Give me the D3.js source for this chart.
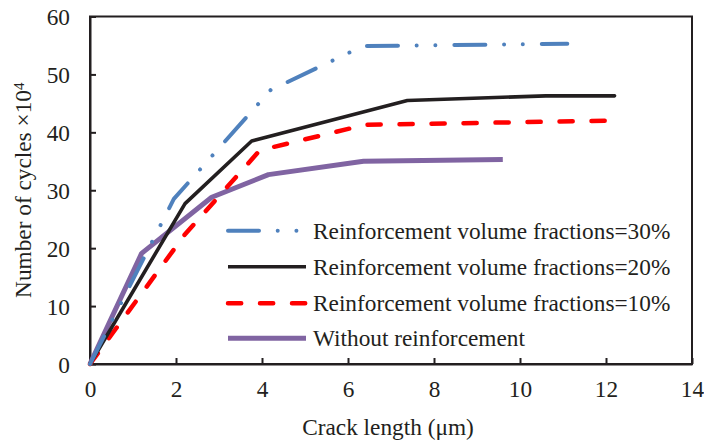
<!DOCTYPE html>
<html><head><meta charset="utf-8">
<script src="https://cdn.jsdelivr.net/npm/d3@7"></script>
<style>body{margin:0;background:#fff}svg{display:block}</style>
</head><body>
<script>
// Data
const seriesNames = [
  "Reinforcement volume fractions=30%",
  "Reinforcement volume fractions=20%",
  "Reinforcement volume fractions=10%",
  "Without reinforcement"
];
const x30 = [0, 1.95, 4.2, 6.35, 11.1];
const y30 = [0, 28.5, 47.3, 54.9, 55.3];
const x20 = [0, 2.21, 3.76, 7.38, 10.6, 12.2];
const y20 = [0, 27.7, 38.5, 45.5, 46.3, 46.3];
const x10 = [0, 2.2, 3.95, 6.4, 12.0];
const y10 = [0, 22.3, 36.9, 41.3, 42.0];
const x0 = [0, 1.2, 2.83, 4.15, 6.36, 9.6];
const y0 = [0, 19.1, 28.8, 32.7, 35.0, 35.3];
const xTicks = [0, 2, 4, 6, 8, 10, 12, 14];
const yTicks = [0, 10, 20, 30, 40, 50, 60];

const W = 704, H = 447;
const m = {left: 90, right: 12, top: 16.5, bottom: 83};
const font = "'Liberation Serif','Times New Roman',serif";
const fs = 23.3;
const axisColor = "#231F20";

const svg = d3.select("body").append("svg").attr("width", W).attr("height", H);
const x = d3.scaleLinear().domain([0, 14]).range([m.left, W - m.right]);
const y = d3.scaleLinear().domain([0, 60]).range([H - m.bottom, m.top]);

const series = [
  {name: seriesNames[0], xs: x30, ys: y30, color: "#4F81BD", width: 4, dash: "31,18.7,0.01,18.7,0.01,19"},
  {name: seriesNames[1], xs: x20, ys: y20, color: "#231F20", width: 3.6, dash: null},
  {name: seriesNames[2], xs: x10, ys: y10, color: "#FF0000", width: 4.5, dash: "13.2,18.8"},
  {name: seriesNames[3], xs: x0, ys: y0, color: "#8064A2", width: 5, dash: null}
];

// Frame
svg.append("rect").attr("x", x(0)).attr("y", y(60)).attr("width", x(14) - x(0)).attr("height", y(0) - y(60))
  .attr("fill", "none").attr("stroke", axisColor).attr("stroke-width", 2);

// Axes
const xAxis = d3.axisBottom(x).tickValues(xTicks).tickSizeInner(-6).tickSizeOuter(0).tickPadding(16).tickFormat(d3.format("d"));
const yAxis = d3.axisLeft(y).tickValues(yTicks).tickSizeInner(-6).tickSizeOuter(0).tickPadding(20).tickFormat(d3.format("d"));
const gx = svg.append("g").attr("transform", `translate(0,${y(0)})`).call(xAxis);
const gy = svg.append("g").attr("transform", `translate(${x(0)},0)`).call(yAxis);
[gx, gy].forEach(g => {
  g.select(".domain").attr("stroke", axisColor).attr("stroke-width", 2);
  g.selectAll(".tick line").attr("stroke", axisColor).attr("stroke-width", 2);
  g.selectAll(".tick text").attr("fill", "#231F20").attr("font-family", font).attr("font-size", fs);
});
gy.selectAll(".tick text").attr("dy", "0.35em");

// Lines
const line = d3.line().x(d => x(d[0])).y(d => y(d[1]));
const order = [3, 2, 1, 0];
order.forEach(i => {
  const s = series[i];
  const pts = s.xs.map((v, k) => [v, s.ys[k]]);
  const p = svg.append("path").datum(pts).attr("d", line)
    .attr("fill", "none").attr("stroke", s.color).attr("stroke-width", s.width)
    .attr("stroke-linejoin", "round").attr("stroke-linecap", s.dash ? "round" : (i === 3 ? "butt" : "round"));
  if (s.dash) p.attr("stroke-dasharray", s.dash);
});

// Legend
const legY = [230.7, 266.7, 303.3, 338.3];
const legX0 = 228, legX1 = 306;
series.forEach((s, i) => {
  const l = svg.append("line").attr("x1", legX0).attr("x2", legX1).attr("y1", legY[i]).attr("y2", legY[i])
    .attr("stroke", s.color).attr("stroke-width", s.width)
    .attr("stroke-linecap", s.dash ? "round" : "butt");
  if (s.dash) l.attr("stroke-dasharray", s.dash);
  svg.append("text").attr("x", 313).attr("y", legY[i]).attr("dy", "0.35em")
    .attr("font-family", font).attr("font-size", fs).attr("fill", "#231F20").text(s.name);
});

// Axis titles
svg.append("text").attr("x", (x(0) + x(14)) / 2 - 3).attr("y", 435).attr("text-anchor", "middle")
  .attr("font-family", font).attr("font-size", fs).attr("fill", "#231F20").text("Crack length (μm)");
const yt = svg.append("text").attr("transform", `translate(31,${(y(0) + y(60)) / 2}) rotate(-90)`)
  .attr("text-anchor", "middle").attr("font-family", font).attr("font-size", fs).attr("fill", "#231F20");
yt.append("tspan").text("Number of cycles ×10");
yt.append("tspan").attr("dy", "-0.45em").attr("font-size", 15).text("4");
</script>
</body></html>
